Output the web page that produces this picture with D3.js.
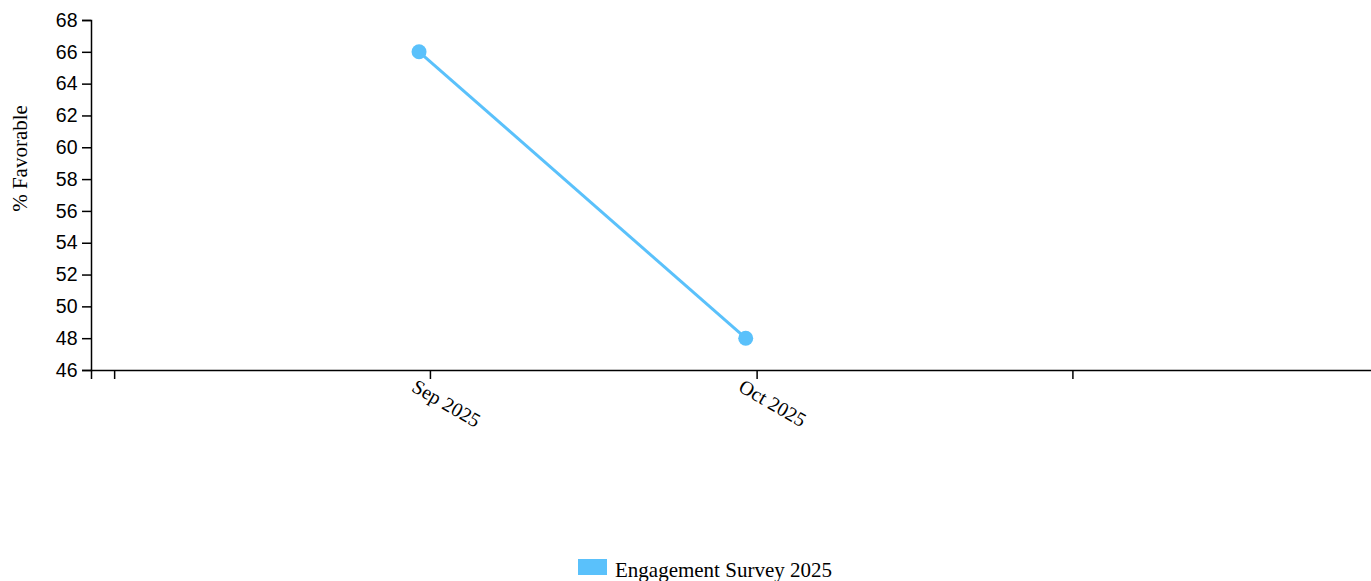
<!DOCTYPE html>
<html>
<head>
<meta charset="utf-8">
<script src="https://cdn.jsdelivr.net/npm/d3@7"></script>
<style>
  html, body { margin: 0; padding: 0; background: #fff; }
  svg { display: block; }
</style>
</head>
<body>
<svg id="chart" width="1371" height="581"></svg>
<script>
// Survey results: % favorable per survey wave
const seriesName = "Engagement Survey 2025";
const surveyDates = ["2025-08-31", "2025-09-30"];
const favorable = [66, 48];

// Axis ticks
const tickDates = ["2025-08-03", "2025-09-01", "2025-10-01", "2025-10-30"];
const tickLabels = ["", "Sep 2025", "Oct 2025", ""];
const yTicks = [46, 48, 50, 52, 54, 56, 58, 60, 62, 64, 66, 68];
const xDomain = ["2025-07-31T21:00:00Z", "2025-11-26T14:30:00Z"];
const yDomain = [46, 68];

const lineColor = "#5ac1fb";
const svg = d3.select("#chart");
const margin = { left: 91, top: 20 };
const plotW = 1282; // runs just past the right edge of the view
const plotH = 350;

const parse = s => new Date(s.length > 10 ? s : s + "T00:00:00Z");

const x = d3.scaleUtc().domain(xDomain.map(parse)).range([0, plotW]);
const y = d3.scaleLinear().domain(yDomain).range([plotH, 0]);

const g = svg.append("g").attr("transform", `translate(${margin.left},${margin.top})`);

// y axis
const yAxis = g.append("g")
  .call(d3.axisLeft(y).tickValues(yTicks).tickSize(9).tickPadding(4.5).tickFormat(d3.format("d")));
yAxis.selectAll("path, line").attr("stroke", "#000").attr("stroke-width", 1.5);
yAxis.selectAll("text")
  .attr("font-family", "'Liberation Sans', Arial, sans-serif")
  .attr("font-size", 19.5)
  .attr("fill", "#000");

// x axis
const xAxis = g.append("g")
  .attr("transform", `translate(0,${plotH})`)
  .call(d3.axisBottom(x)
    .tickValues(tickDates.map(parse))
    .tickSize(9).tickPadding(4.5)
    .tickFormat((d, i) => tickLabels[i]));
xAxis.selectAll("path, line").attr("stroke", "#000").attr("stroke-width", 1.5);
xAxis.selectAll("text")
  .attr("font-family", "'Liberation Serif', 'Times New Roman', serif")
  .attr("font-size", 20)
  .attr("fill", "#000")
  .attr("x", -7)
  .attr("text-anchor", "start")
  .attr("transform", "rotate(30)");

// y axis title
svg.append("text")
  .attr("transform", "translate(27,158.5) rotate(-90)")
  .attr("text-anchor", "middle")
  .attr("font-family", "'Liberation Serif', 'Times New Roman', serif")
  .attr("font-size", 21)
  .attr("fill", "#000")
  .text("% Favorable");

// series line and points
const pts = surveyDates.map((d, i) => ({ date: parse(d), value: favorable[i] }));
const line = d3.line().x(d => x(d.date)).y(d => y(d.value));

g.append("path")
  .datum(pts)
  .attr("d", line)
  .attr("fill", "none")
  .attr("stroke", lineColor)
  .attr("stroke-width", 3);

g.selectAll("circle.pt")
  .data(pts)
  .join("circle")
  .attr("class", "pt")
  .attr("cx", d => x(d.date))
  .attr("cy", d => y(d.value))
  .attr("r", 7.5)
  .attr("fill", lineColor);

// legend
const legend = svg.append("g").attr("transform", "translate(578,559)");
legend.append("rect").attr("width", 29).attr("height", 16).attr("fill", lineColor);
legend.append("text")
  .attr("x", 37).attr("y", 17.5)
  .attr("font-family", "'Liberation Serif', 'Times New Roman', serif")
  .attr("font-size", 21)
  .attr("fill", "#000")
  .text(seriesName);
</script>
</body>
</html>
